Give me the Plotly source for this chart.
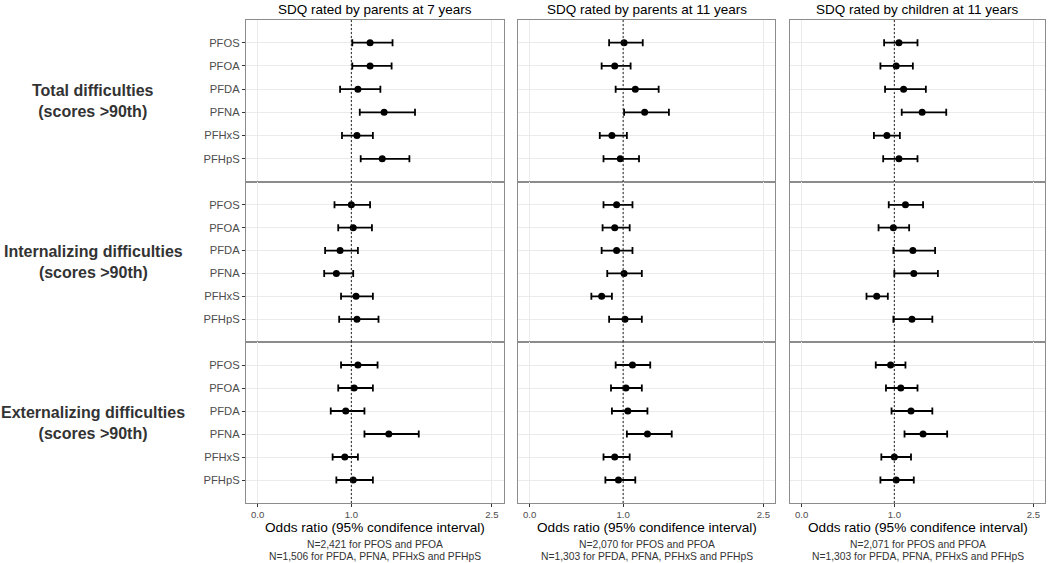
import plotly.graph_objects as go
from plotly.subplots import make_subplots

# ---------------- data ----------------
pfas = ["PFOS", "PFOA", "PFDA", "PFNA", "PFHxS", "PFHpS"]
column_titles = ["SDQ rated by parents at 7 years",
                 "SDQ rated by parents at 11 years",
                 "SDQ rated by children at 11 years"]
row_titles = ["Total difficulties<br>(scores >90th)",
              "Internalizing difficulties<br>(scores >90th)",
              "Externalizing difficulties<br>(scores >90th)"]
n_line1 = ["N=2,421 for PFOS and PFOA", "N=2,070 for PFOS and PFOA", "N=2,071 for PFOS and PFOA"]
n_line2 = ["N=1,506 for PFDA, PFNA, PFHxS and PFHpS",
           "N=1,303 for PFDA, PFNA, PFHxS and PFHpS",
           "N=1,303 for PFDA, PFNA, PFHxS and PFHpS"]
x_tickvals = [0.0, 1.0, 2.5]
x_ticktext = ["0.0", "1.0", "2.5"]

# Total difficulties
total_p7_or = [1.20, 1.20, 1.07, 1.35, 1.06, 1.33]
total_p7_lo = [1.01, 1.01, 0.88, 1.09, 0.90, 1.10]
total_p7_hi = [1.44, 1.43, 1.31, 1.68, 1.23, 1.62]
total_p11_or = [1.01, 0.91, 1.13, 1.23, 0.88, 0.97]
total_p11_lo = [0.85, 0.77, 0.92, 1.01, 0.75, 0.79]
total_p11_hi = [1.21, 1.08, 1.38, 1.49, 1.04, 1.17]
total_c11_or = [1.05, 1.02, 1.10, 1.30, 0.92, 1.05]
total_c11_lo = [0.89, 0.85, 0.90, 1.08, 0.78, 0.88]
total_c11_hi = [1.25, 1.20, 1.34, 1.56, 1.06, 1.25]
# Internalizing difficulties
int_p7_or = [1.00, 1.02, 0.88, 0.84, 1.05, 1.06]
int_p7_lo = [0.82, 0.86, 0.72, 0.71, 0.89, 0.87]
int_p7_hi = [1.20, 1.22, 1.07, 1.02, 1.23, 1.29]
int_p11_or = [0.93, 0.91, 0.93, 1.01, 0.77, 1.02]
int_p11_lo = [0.79, 0.78, 0.77, 0.83, 0.66, 0.85]
int_p11_hi = [1.10, 1.07, 1.10, 1.20, 0.88, 1.20]
int_c11_or = [1.12, 0.99, 1.20, 1.21, 0.81, 1.19]
int_c11_lo = [0.94, 0.83, 0.99, 1.00, 0.70, 0.99]
int_c11_hi = [1.31, 1.16, 1.44, 1.47, 0.93, 1.41]
# Externalizing difficulties
ext_p7_or = [1.07, 1.03, 0.94, 1.40, 0.93, 1.02]
ext_p7_lo = [0.89, 0.86, 0.78, 1.14, 0.80, 0.84]
ext_p7_hi = [1.28, 1.23, 1.14, 1.72, 1.07, 1.23]
ext_p11_or = [1.10, 1.03, 1.05, 1.26, 0.91, 0.95]
ext_p11_lo = [0.92, 0.87, 0.88, 1.04, 0.79, 0.81]
ext_p11_hi = [1.29, 1.20, 1.26, 1.52, 1.07, 1.13]
ext_c11_or = [0.96, 1.07, 1.18, 1.31, 1.00, 1.02]
ext_c11_lo = [0.80, 0.91, 0.97, 1.11, 0.86, 0.85]
ext_c11_hi = [1.12, 1.25, 1.41, 1.57, 1.18, 1.21]

panels = [
    [(total_p7_or, total_p7_lo, total_p7_hi), (total_p11_or, total_p11_lo, total_p11_hi), (total_c11_or, total_c11_lo, total_c11_hi)],
    [(int_p7_or, int_p7_lo, int_p7_hi), (int_p11_or, int_p11_lo, int_p11_hi), (int_c11_or, int_c11_lo, int_c11_hi)],
    [(ext_p7_or, ext_p7_lo, ext_p7_hi), (ext_p11_or, ext_p11_lo, ext_p11_hi), (ext_c11_or, ext_c11_lo, ext_c11_hi)],
]

# ---------------- layout geometry ----------------
W, H = 1050, 563
col_px = [(246, 503.5), (518, 775), (790, 1045)]
row_px = [(19.5, 182), (182, 342), (342, 503)]

FONT = "Liberation Sans, Arial, sans-serif"
fig = make_subplots(rows=3, cols=3)

for r in range(3):
    for c in range(3):
        orv, lo, hi = panels[r][c]
        idx = r * 3 + c + 1
        xa = "xaxis" if idx == 1 else f"xaxis{idx}"
        ya = "yaxis" if idx == 1 else f"yaxis{idx}"
        xref = "x" if idx == 1 else f"x{idx}"
        yref = "y domain" if idx == 1 else f"y{idx} domain"
        fig.add_shape(type="line", xref=xref, yref=yref, x0=1, x1=1, y0=0, y1=1,
                      line=dict(color="#222222", width=1, dash="2px,2px"), layer="above")
        fig.add_trace(go.Scatter(
            x=orv, y=pfas, mode="markers",
            marker=dict(color="black", size=7),
            error_x=dict(type="data", symmetric=False,
                         array=[h - o for h, o in zip(hi, orv)],
                         arrayminus=[o - l for o, l in zip(orv, lo)],
                         color="black", thickness=1.8, width=3.5),
            showlegend=False, hoverinfo="x+y"), row=r + 1, col=c + 1)
        x0, x1 = col_px[c]
        y0, y1 = row_px[r]
        fig.layout[xa].update(
            domain=[x0 / W, x1 / W], range=[-0.125, 2.625],
            tickvals=x_tickvals, ticktext=x_ticktext,
            showticklabels=(r == 2), ticks="outside" if r == 2 else "",
            ticklen=2.5, tickcolor="#333333", tickwidth=1,
            tickfont=dict(family=FONT, size=9.6, color="#4D4D4D"),
            showgrid=True, gridcolor="#EBEBEB", gridwidth=1,
            zeroline=False, showline=True, mirror=True,
            linecolor="#8C8C8C", linewidth=1.3)
        fig.layout[ya].update(
            domain=[1 - y1 / H, 1 - y0 / H],
            type="category", categoryorder="array", categoryarray=pfas,
            range=[6, -1],
            showticklabels=(c == 0), ticks="outside" if c == 0 else "",
            ticklen=3, tickcolor="#333333", tickwidth=1,
            tickfont=dict(family=FONT, size=11.2, color="#4D4D4D"),
            showgrid=True, gridcolor="#EBEBEB", gridwidth=1,
            zeroline=False, showline=True, mirror=True,
            linecolor="#8C8C8C", linewidth=1.3)

annotations = []
for c in range(3):
    xc = (col_px[c][0] + col_px[c][1]) / 2 / W
    annotations.append(dict(x=xc, y=1 - 10 / H, text=column_titles[c], showarrow=False,
                            xref="paper", yref="paper", xanchor="center", yanchor="middle",
                            font=dict(family=FONT, size=13.5, color="black")))
    annotations.append(dict(x=xc, y=1 - 527.5 / H, text="Odds ratio (95% condifence interval)",
                            showarrow=False, xref="paper", yref="paper",
                            xanchor="center", yanchor="middle",
                            font=dict(family=FONT, size=13.6, color="black")))
    annotations.append(dict(x=xc, y=1 - 544 / H, text=n_line1[c], showarrow=False,
                            xref="paper", yref="paper", xanchor="center", yanchor="middle",
                            font=dict(family=FONT, size=10.3, color="#333333")))
    annotations.append(dict(x=xc, y=1 - 556.5 / H, text=n_line2[c], showarrow=False,
                            xref="paper", yref="paper", xanchor="center", yanchor="middle",
                            font=dict(family=FONT, size=10.3, color="#333333")))
for r in range(3):
    yc = 1 - (row_px[r][0] + row_px[r][1]) / 2 / H
    annotations.append(dict(x=93 / W, y=yc, text="<b>" + row_titles[r] + "</b>", showarrow=False,
                            xref="paper", yref="paper", xanchor="center", yanchor="middle",
                            align="center",
                            font=dict(family=FONT, size=16, color="#333333")))

fig.update_layout(width=W, height=H, margin=dict(l=0, r=0, t=0, b=0),
                  paper_bgcolor="white", plot_bgcolor="white",
                  annotations=annotations, showlegend=False)

fig.write_html("out.html", config={"displayModeBar": False},
               post_script="document.body.style.margin='0';document.body.style.padding='0';"
                           "document.body.style.overflow='hidden';")
